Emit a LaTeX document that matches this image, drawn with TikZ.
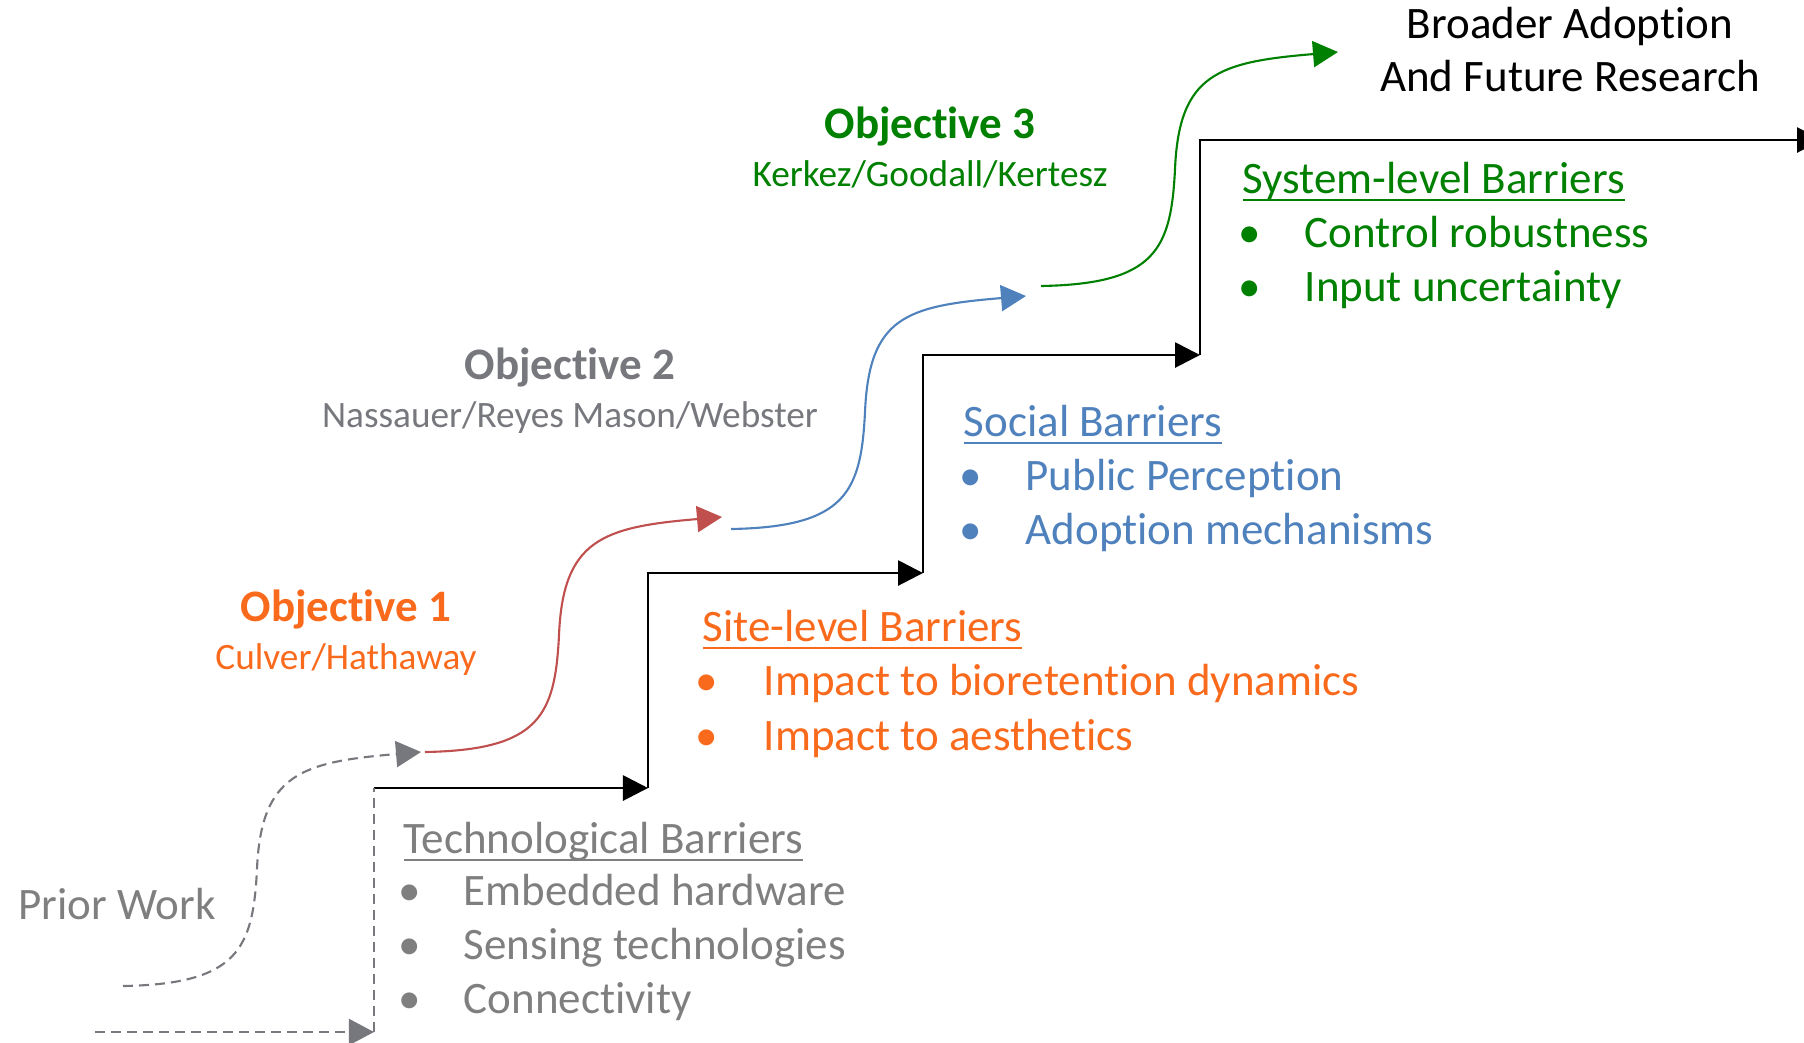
\documentclass[tikz,border=0pt]{standalone}
\usepackage{fontspec}
\setmainfont{Carlito}[Ligatures=NoCommon]
\usetikzlibrary{arrows.meta}

\definecolor{tgray}{RGB}{127,127,127}
\definecolor{ogray}{RGB}{118,120,125}
\definecolor{orng}{RGB}{250,106,28}
\definecolor{redc}{RGB}{192,80,77}
\definecolor{bluec}{RGB}{79,129,189}
\definecolor{greenc}{RGB}{0,128,0}

% underline that sits just under the baseline, not under the descenders
\newsavebox\headbox
\newcommand\ulhead[1]{\sbox\headbox{#1}\rlap{\rule[-2.35pt]{\wd\headbox}{0.7pt}}\usebox\headbox}

\begin{document}
\begin{tikzpicture}[x=0.01cm,y=-0.01cm,
	txt/.style={inner sep=0pt,font=\fontsize{12.8}{15}\selectfont},
	head/.style={txt,anchor=base west},
	item/.style={txt,anchor=base west},
	dot/.style={txt,anchor=base},
	obj/.style={inner sep=0pt,anchor=base,font=\fontsize{12.8}{15}\selectfont\bfseries},
	who/.style={inner sep=0pt,anchor=base,font=\fontsize{10.6}{13}\selectfont},
	stair/.style={line width=0.8pt,-{Triangle[length=0.25cm,width=0.25cm]}},
	rise/.style={line width=0.6pt,-{Triangle[length=0.25cm,width=0.26cm]},
		to path={.. controls +(115,-2) and +(-4,80) .. ([shift={(134,-117)}]\tikztostart)
			.. controls +(4,-95) and +(-120,10) .. (\tikztotarget)}},
	prior/.style={ogray,line width=0.6pt,dash pattern=on 0.1cm off 0.06cm}]

\useasboundingbox (0,0) rectangle (1804,1042);

% staircase
\coordinate (c0) at (374,788);
\coordinate (c1) at (648,788);
\coordinate (c2) at (923,573);
\coordinate (c3) at (1200,355);
\coordinate (c4) at (1822,140);
\draw[stair] (c0) -- (c1);
\draw[stair] (c1) |- (c2);
\draw[stair] (c2) |- (c3);
\draw[stair] (c3) |- (c4);

% prior work, dashed
\coordinate (d0) at (95,1032);
\coordinate (d1) at (374,1032);
\draw[prior,-{Triangle[length=0.25cm,width=0.26cm]}] (d0) -- (d1);
\draw[prior] (d1) -- (c0);

% objective curves
\coordinate (pw) at (123,986);
\coordinate (o1a) at (421,752);
\coordinate (o1s) at (425,752);
\coordinate (o1e) at (722,517);
\coordinate (o2s) at (731,529);
\coordinate (o2e) at (1026,296);
\coordinate (o3s) at (1041,286);
\coordinate (o3e) at (1338,52);
\draw[prior,rise] (pw) to (o1a);
\draw[redc,rise] (o1s) to (o1e);
\draw[bluec,rise] (o2s) to (o2e);
\draw[greenc,rise] (o3s) to (o3e);

\path (18,919) node[head,tgray] (prior) {Prior Work};

\path (346,621) node[obj,orng] (obj1) {Objective 1};
\path (346,669) node[who,orng] (who1) {Culver/Hathaway};
\path (570,379) node[obj,ogray] (obj2) {Objective 2};
\path (570,427) node[who,ogray] (who2) {Nassauer/Reyes Mason/Webster};
\path (930,138) node[obj,greenc] (obj3) {Objective 3};
\path (930,186) node[who,greenc] (who3) {Kerkez/Goodall/Kertesz};

\path (1570,38) node[txt,anchor=base] (goal1) {Broader Adoption};
\path (1570,91) node[txt,anchor=base] (goal2) {And Future Research};

% barriers
\path (403,853) node[head,tgray] (tech) {\ulhead{Technological Barriers}};
\foreach \txt [count=\i] in {Embedded hardware, Sensing technologies, Connectivity}
{
	\path (410,851+54*\i) node[dot,tgray] (techb\i) {\textbullet};
	\path (463,851+54*\i) node[item,tgray] (tech\i) {\txt};
}

\path (702,641) node[head,orng] (site) {\ulhead{Site-level Barriers}};
\foreach \txt [count=\i] in {Impact to bioretention dynamics, Impact to aesthetics}
{
	\path (707,640+55*\i) node[dot,orng] (siteb\i) {\textbullet};
	\path (763,640+55*\i) node[item,orng] (site\i) {\txt};
}

\path (963,436) node[head,bluec] (social) {\ulhead{Social Barriers}};
\foreach \txt [count=\i] in {Public Perception, Adoption mechanisms}
{
	\path (971,436+54*\i) node[dot,bluec] (socialb\i) {\textbullet};
	\path (1025,436+54*\i) node[item,bluec] (social\i) {\txt};
}

\path (1242,193) node[head,greenc] (sys) {\ulhead{System-level Barriers}};
\foreach \txt [count=\i] in {Control robustness, Input uncertainty}
{
	\path (1250,193+54*\i) node[dot,greenc] (sysb\i) {\textbullet};
	\path (1304,193+54*\i) node[item,greenc] (sys\i) {\txt};
}

\end{tikzpicture}
\end{document}
